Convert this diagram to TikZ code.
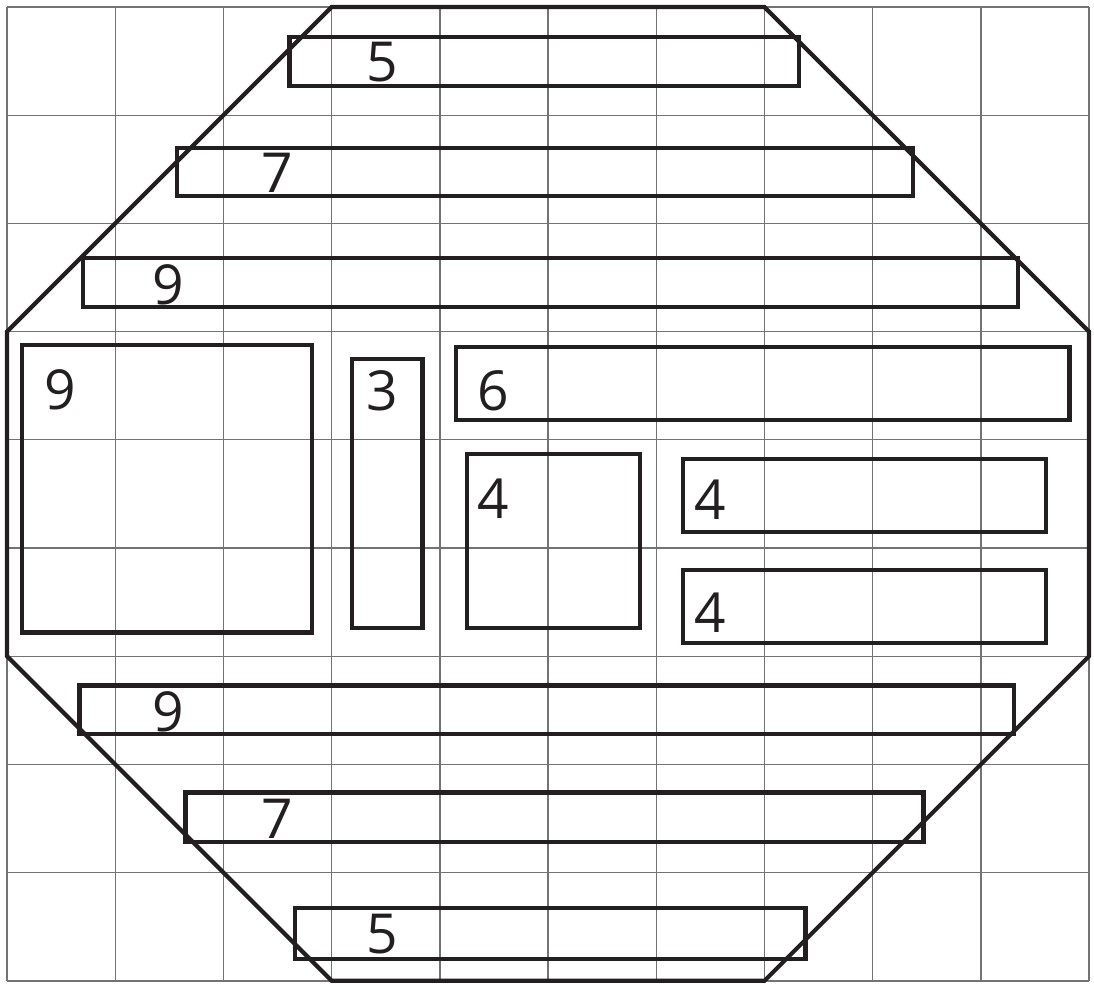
\documentclass[tikz,border=0pt]{standalone}
\usepackage{fontspec}
\setmainfont{Open Sans}
\usepackage{tikz}
\usetikzlibrary{positioning}

\definecolor{ink}{HTML}{231F20}
\tikzset{
  gridline/.style={black!55, line width=0.35pt},
  outline/.style={ink, line width=1.1pt},
  piece/.style={ink, line width=1.1pt},
  digit/.style={ink, inner sep=0pt, font=\fontsize{14.5}{17}\selectfont}
}

\begin{document}
\begin{tikzpicture}
        \useasboundingbox (-0.065,-0.02) rectangle (10.046,9.065);
        \draw[gridline] (0,0) grid (10,9);
        % octagon
        \draw[outline] (3,9) -- (7,9) -- (10,6) -- (10,3) -- (7,0)
                       -- (3,0) -- (0,3) -- (0,6) -- cycle;
        % boards: corner / corner / label position / number
        \foreach \xa/\ya/\xb/\yb/\lx/\ly/\n [count=\i] in {
              2.61/8.72/7.32/8.27/3.47/8.49/5,
              1.57/7.70/8.37/7.25/2.50/7.47/7,
              0.70/6.68/9.34/6.23/1.49/6.43/9,
              0.14/5.88/2.82/3.22/0.49/5.46/9,
              3.19/5.75/3.84/3.26/3.47/5.45/3,
              4.15/5.86/9.82/5.18/4.49/5.45/6,
              4.25/4.87/5.85/3.26/4.49/4.46/4,
              6.25/4.82/9.60/4.15/6.50/4.45/4,
              6.25/3.80/9.60/3.12/6.50/3.40/4,
              0.67/2.73/9.31/2.28/1.49/2.49/9,
              1.65/1.74/8.47/1.28/2.50/1.50/7,
              2.66/0.67/7.38/0.20/3.47/0.43/5}{
          \draw[piece] (\xa,\ya) rectangle (\xb,\yb);
          \node[digit] (num\i) at (\lx,\ly) {\n};
        }
      \end{tikzpicture}
\end{document}
